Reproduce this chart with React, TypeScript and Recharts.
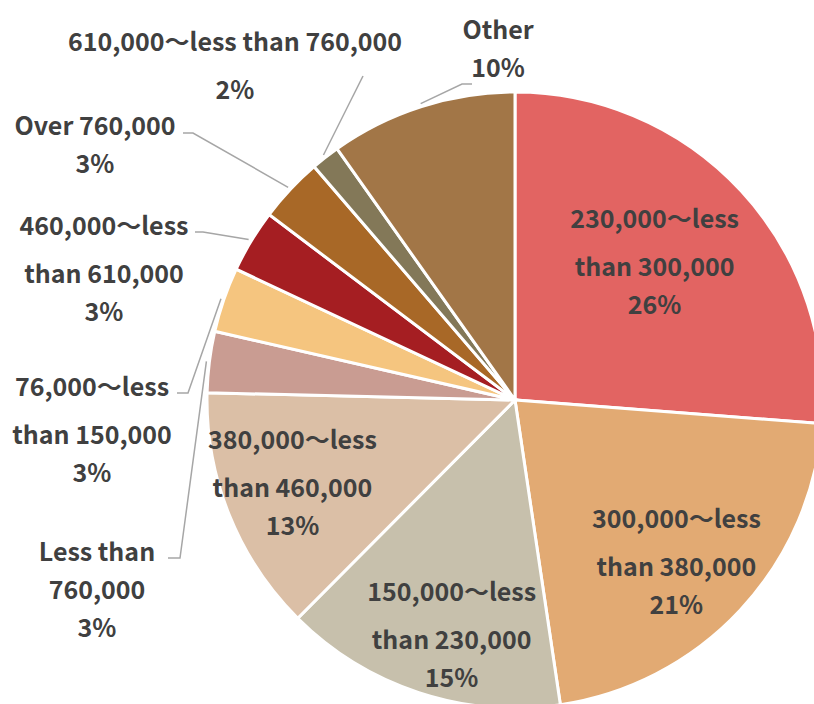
import React from 'react';
import { PieChart, Pie, Cell } from 'recharts';

const categories = [
    '230,000～less than 300,000',
    '300,000～less than 380,000',
    '150,000～less than 230,000',
    '380,000～less than 460,000',
    'Less than 760,000',
    '76,000～less than 150,000',
    '460,000～less than 610,000',
    'Over 760,000',
    '610,000～less than 760,000',
    'Other',
];

const shares = [26.2, 21.4, 14.8, 12.9, 3.2, 3.4, 3.3, 3.4, 1.5, 9.8];

// how each category name is broken over lines in its label
const labelLines = [
    ['230,000～less', 'than 300,000'],
    ['300,000～less', 'than 380,000'],
    ['150,000～less', 'than 230,000'],
    ['380,000～less', 'than 460,000'],
    ['Less than', '760,000'],
    ['76,000～less', 'than 150,000'],
    ['460,000～less', 'than 610,000'],
    ['Over 760,000'],
    ['610,000～less than 760,000'],
    ['Other'],
];

const COLORS = [
    '#E26462', '#E2AA73', '#C7C0AC', '#DBBFA6', '#C99C92',
    '#F5C57F', '#A51E22', '#A86827', '#837858', '#A27647',
];

// label placement: inside labels sit on the slice's mid angle,
// outside ones are offset from the pie centre with a leader line
type Placement =
    | { kind: 'in'; r: number; turn: number }
    | { kind: 'out'; tx: number; ty: number; ex: number; ey: number; hx?: number };

const placements: Placement[] = [
    { kind: 'in', r: 0.63, turn: 1.2 },
    { kind: 'in', r: 0.75, turn: -2.7 },
    { kind: 'in', r: 0.8, turn: 3.3 },
    { kind: 'in', r: 0.775, turn: -0.7 },
    { kind: 'out', tx: -418, ty: 150, ex: -335, ey: 158, hx: -347 },
    { kind: 'out', tx: -423, ty: -15, ex: -327, ey: -7, hx: -338 },
    { kind: 'out', tx: -411, ty: -176, ex: -312, ey: -168, hx: -320 },
    { kind: 'out', tx: -420, ty: -276, ex: -322, ey: -267, hx: -332 },
    { kind: 'out', tx: -280, ty: -360, ex: -152, ey: -324 },
    { kind: 'out', tx: -17, ty: -372, ex: -53, ey: -316, hx: -43 },
];

const data = categories.map((name, i) => ({ name, value: shares[i] }));

const RADIAN = Math.PI / 180;
const TEXT = '#404040';
const FONT = "'Noto Sans CJK JP', 'Noto Sans', sans-serif";

const gapAfter = (line: string) => (line.includes('～') ? 48 : 38);

function polar(cx: number, cy: number, r: number, angle: number) {
    return { x: cx + r * Math.cos(-angle * RADIAN), y: cy + r * Math.sin(-angle * RADIAN) };
}

function renderLabel(props: any) {
    const { cx, cy, midAngle, outerRadius, index } = props;
    const place = placements[index];
    const lines = [...labelLines[index], `${Math.round(shares[index])}%`];

    let x: number;
    let y: number;
    let leader: React.ReactNode = null;

    if (place.kind === 'in') {
        const p = polar(cx, cy, outerRadius * place.r, midAngle + place.turn);
        x = p.x;
        y = p.y - gapAfter(lines[0]);
    } else {
        x = cx + place.tx;
        y = cy + place.ty;
        const s = polar(cx, cy, outerRadius + 3, midAngle);
        const pts = [`${s.x},${s.y}`, `${cx + place.ex},${cy + place.ey}`];
        if (place.hx !== undefined) pts.push(`${cx + place.hx},${cy + place.ey}`);
        leader = <polyline points={pts.join(' ')} fill="none" stroke="#A6A6A6" strokeWidth={1.5} />;
    }

    let yy = y;
    const texts = lines.map((line, i) => {
        const el = (
            <text
                key={i}
                x={x}
                y={yy}
                textAnchor="middle"
                dominantBaseline="central"
                fill={TEXT}
                fontSize={25}
                fontWeight="bold"
                fontFamily={FONT}
            >
                {line}
            </text>
        );
        yy += gapAfter(line);
        return el;
    });

    return (
        <g key={`label-${index}`}>
            {leader}
            {texts}
        </g>
    );
}

export default function App() {
    return (
        <div style={{ position: 'absolute', left: 0, top: 0, width: 814, height: 704, background: '#fff' }}>
            <PieChart width={814} height={704} margin={{ top: 0, right: 0, bottom: 0, left: 0 }}>
                <Pie
                    data={data}
                    dataKey="value"
                    nameKey="name"
                    cx={515}
                    cy={400}
                    outerRadius={308}
                    startAngle={90}
                    endAngle={-270}
                    stroke="#fff"
                    strokeWidth={3}
                    label={renderLabel}
                    labelLine={false}
                    isAnimationActive={false}
                >
                    {data.map((d, i) => (
                        <Cell key={d.name} fill={COLORS[i]} />
                    ))}
                </Pie>
            </PieChart>
        </div>
    );
}
